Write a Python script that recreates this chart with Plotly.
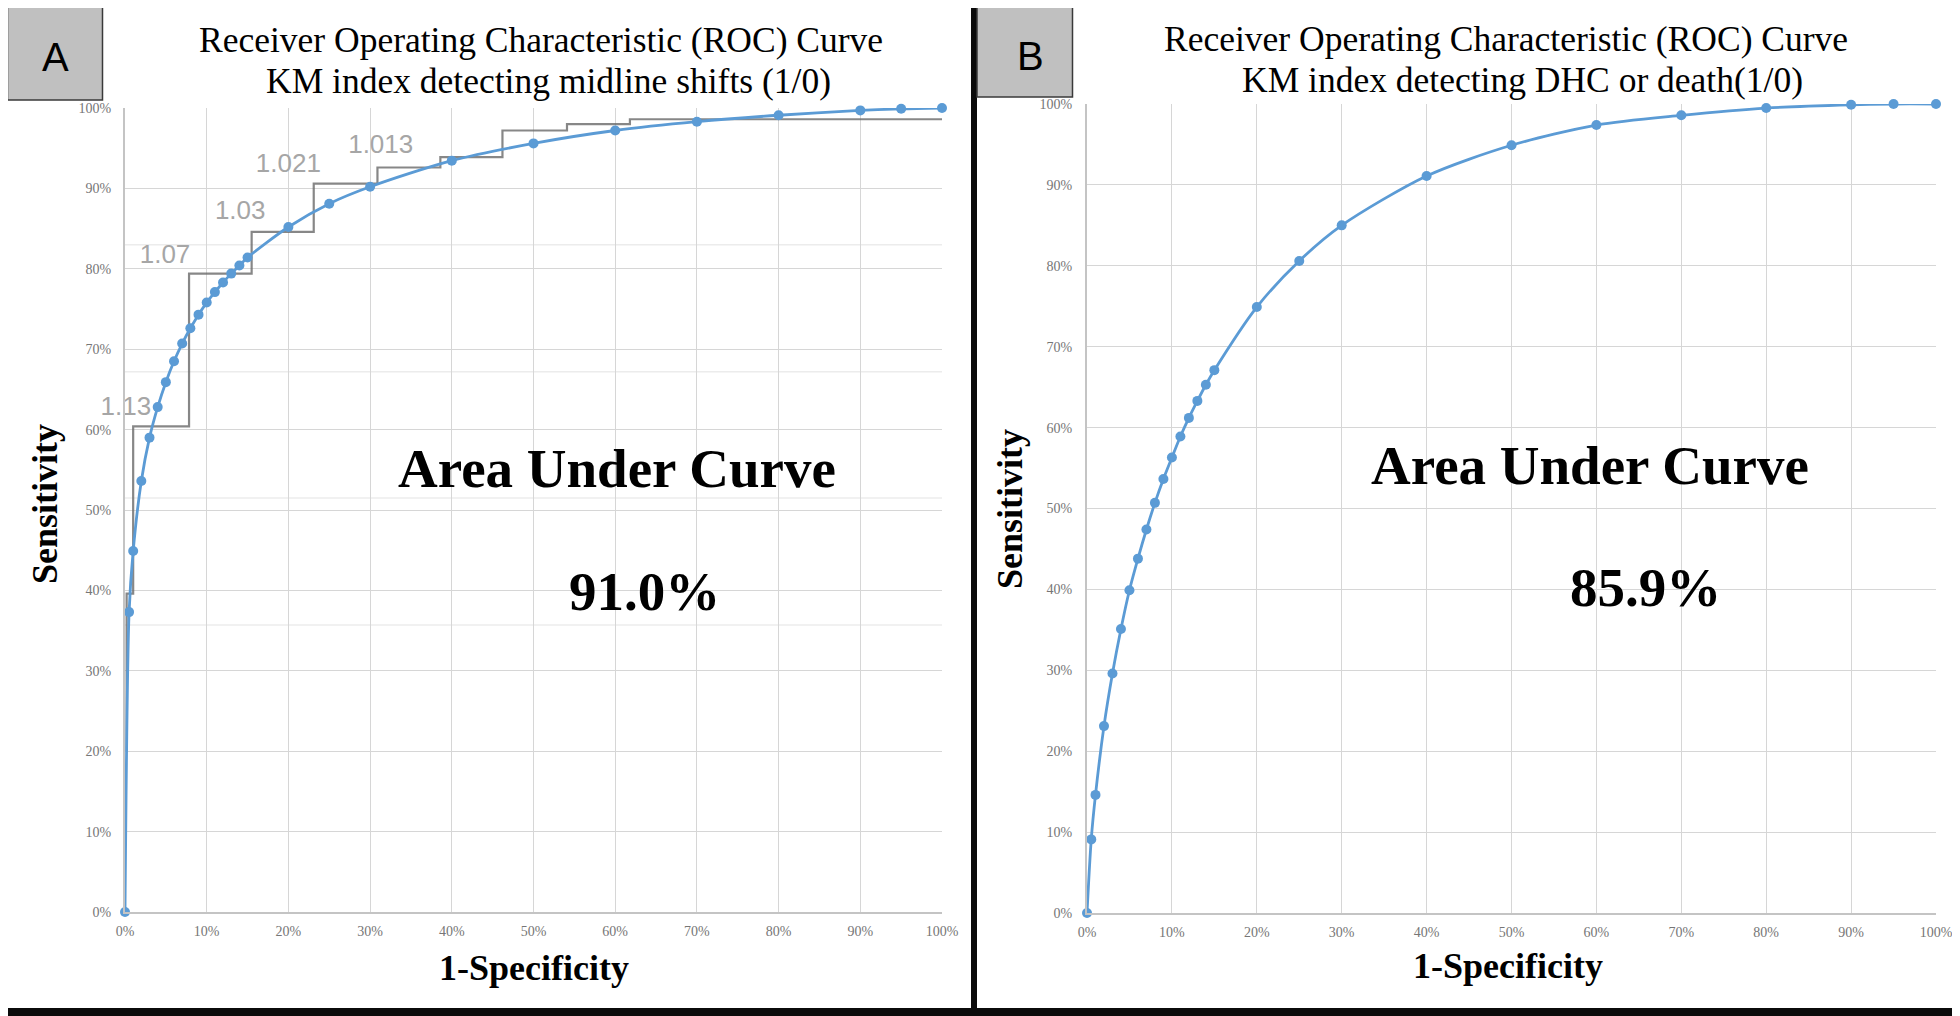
import plotly.graph_objects as go

# The page body has an 8px default margin; the figure is laid out in screen pixels
OX, OY = 8, 8
FW, FH = 1960 - OX, 1016 - OY

# ---------------- data ----------------
tick_vals = [0, 10, 20, 30, 40, 50, 60, 70, 80, 90, 100]
tick_labels = ["0%", "10%", "20%", "30%", "40%", "50%", "60%", "70%", "80%", "90%", "100%"]

# Panel A: KM index detecting midline shifts
a_fpr = [0, 0.5, 1, 2, 3, 4, 5, 6, 7, 8, 9, 10, 11, 12, 13, 14, 15,
         20, 25, 30, 40, 50, 60, 70, 80, 90, 95, 100]
a_sens = [0, 37.3, 44.9, 53.6, 59.0, 62.8, 65.9, 68.5, 70.7, 72.6, 74.3, 75.8, 77.1, 78.3, 79.4, 80.4, 81.4,
          85.2, 88.1, 90.2, 93.45, 95.6, 97.2, 98.3, 99.1, 99.7, 99.9, 100]

# Panel A: empirical (step) ROC overlay with threshold labels
stair_x = [0.2, 0.2, 1.0, 1.0, 7.84, 7.84, 15.5, 15.5, 23.1, 23.1, 30.9, 30.9,
           38.6, 38.6, 46.2, 46.2, 54.1, 54.1, 61.8, 61.8, 100.5]
stair_y = [20.0, 39.6, 39.6, 60.4, 60.4, 79.4, 79.4, 84.6, 84.6, 90.6, 90.6, 92.6,
           92.6, 93.9, 93.9, 97.2, 97.2, 98.0, 98.0, 98.6, 98.6]
thr_labels = ["1.13", "1.07", "1.03", "1.021", "1.013"]
thr_x = [0.1, 4.9, 14.1, 20.0, 31.3]
thr_y = [62.6, 81.5, 87.0, 92.8, 95.2]
ghost_grid_y = [83.0, 67.2, 51.5, 35.7]

# Panel B: KM index detecting DHC or death
b_fpr = [0, 0.5, 1, 2, 3, 4, 5, 6, 7, 8, 9, 10, 11, 12, 13, 14, 15,
         20, 25, 30, 40, 50, 60, 70, 80, 90, 95, 100]
b_sens = [0, 9.1, 14.6, 23.1, 29.6, 35.1, 39.9, 43.8, 47.4, 50.7, 53.65, 56.3, 58.9, 61.2, 63.3, 65.3, 67.1,
          74.9, 80.6, 85.0, 91.1, 94.9, 97.4, 98.6, 99.5, 99.9, 100, 100]

auc_a = "91.0%"
auc_b = "85.9%"
title_a = ["Receiver Operating Characteristic (ROC) Curve", "KM index detecting midline shifts (1/0)"]
title_b = ["Receiver Operating Characteristic (ROC) Curve", "KM index detecting DHC or death(1/0)"]

# ---------------- helpers (screen px -> paper) ----------------
def px(x):
    return (x - OX) / FW

def py(y):
    return 1 - (y - OY) / FH

BLUE = "#5B9BD5"
SERIF = "Liberation Serif"
SANS = "Liberation Sans"

fig = go.Figure()

# stair overlay + threshold labels (under the blue curve)
fig.add_trace(go.Scatter(x=stair_x, y=stair_y, mode="lines",
                         line=dict(color="rgba(105,105,105,0.8)", width=2.2),
                         hoverinfo="skip", cliponaxis=False, xaxis="x", yaxis="y"))
fig.add_trace(go.Scatter(x=thr_x, y=thr_y, mode="text", text=thr_labels,
                         textfont=dict(family=SANS, size=26, color="#a6a6a6"),
                         textposition="middle center", cliponaxis=False,
                         hoverinfo="skip", xaxis="x", yaxis="y"))
fig.add_trace(go.Scatter(x=a_fpr, y=a_sens, mode="lines+markers",
                         line=dict(color=BLUE, width=2.8, shape="spline", smoothing=0.8),
                         marker=dict(color=BLUE, size=10),
                         cliponaxis=False, xaxis="x", yaxis="y"))
fig.add_trace(go.Scatter(x=b_fpr, y=b_sens, mode="lines+markers",
                         line=dict(color=BLUE, width=2.8, shape="spline", smoothing=0.8),
                         marker=dict(color=BLUE, size=10),
                         cliponaxis=False, xaxis="x2", yaxis="y2"))

axis_common = dict(range=[0, 100], tickmode="array", tickvals=tick_vals, ticktext=tick_labels,
                   showgrid=True, gridcolor="#d6d6d6", gridwidth=1.2, zeroline=False,
                   showline=True, linecolor="#c4c4c4", linewidth=2, ticks="",
                   tickfont=dict(family=SERIF, size=14, color="#767676"),
                   automargin=False, fixedrange=True)

fig.update_layout(
    width=FW, height=FH,
    margin=dict(l=0, r=0, t=0, b=0, autoexpand=False),
    paper_bgcolor="#0b0b0b",
    plot_bgcolor="rgba(0,0,0,0)",
    showlegend=False,
    xaxis=dict(domain=[px(125), px(942)], anchor="y", ticklabelstandoff=5, **axis_common),
    yaxis=dict(domain=[py(912), py(108)], anchor="x", ticklabelstandoff=9, **axis_common),
    xaxis2=dict(domain=[px(1087), px(1936)], anchor="y2", ticklabelstandoff=5, **axis_common),
    yaxis2=dict(domain=[py(913), py(104)], anchor="x2", ticklabelstandoff=10, **axis_common),
)

shapes = []
# white panels
shapes.append(dict(type="rect", xref="paper", yref="paper", x0=px(7.5), x1=px(971), y0=py(1008), y1=py(6),
                   fillcolor="white", line=dict(width=0), layer="below"))
shapes.append(dict(type="rect", xref="paper", yref="paper", x0=px(977), x1=px(1957), y0=py(1008), y1=py(6),
                   fillcolor="white", line=dict(width=0), layer="below"))
# ghost grid lines from the overlaid step chart (panel A)
for gy in ghost_grid_y:
    shapes.append(dict(type="line", xref="x", yref="y", x0=0, x1=100, y0=gy, y1=gy,
                       line=dict(color="#ececec", width=1.5), layer="below"))
# panel label boxes
shapes.append(dict(type="rect", xref="paper", yref="paper", x0=px(7.5), x1=px(102.5), y0=py(100), y1=py(6),
                   fillcolor="#c0c0c0", line=dict(color="#3a3a3a", width=1.5), layer="above"))
shapes.append(dict(type="rect", xref="paper", yref="paper", x0=px(977), x1=px(1072.5), y0=py(97), y1=py(6),
                   fillcolor="#c0c0c0", line=dict(color="#3a3a3a", width=1.5), layer="above"))
fig.update_layout(shapes=shapes)

ann = []
def text(x, y, s, size, family=SERIF, bold=False, color="black", angle=0, xanchor="center"):
    ann.append(dict(x=px(x), y=py(y), xref="paper", yref="paper", text=("<b>%s</b>" % s) if bold else s,
                    showarrow=False, xanchor=xanchor, yanchor="middle", textangle=angle,
                    font=dict(family=family, size=size, color=color)))

# panel letters
text(55, 57, "A", 40, family=SANS)
text(1030, 56, "B", 40, family=SANS)
# titles
text(541, 40, title_a[0], 35.5)
text(548, 81, title_a[1], 35.5)
text(1506, 39, title_b[0], 35.5)
text(1522, 80, title_b[1], 35.5)
# axis titles
text(45, 504, "Sensitivity", 36, bold=True, angle=-90)
text(1010, 509, "Sensitivity", 36, bold=True, angle=-90)
text(534, 968, "1-Specificity", 36, bold=True)
text(1508, 966, "1-Specificity", 36, bold=True)
# AUC labels
text(617, 469, "Area Under Curve", 55, bold=True)
text(644, 591, auc_a, 55, bold=True)
text(1590, 466, "Area Under Curve", 55, bold=True)
text(1645, 587, auc_b, 55, bold=True)
fig.update_layout(annotations=ann)

fig.write_html("out.html")
